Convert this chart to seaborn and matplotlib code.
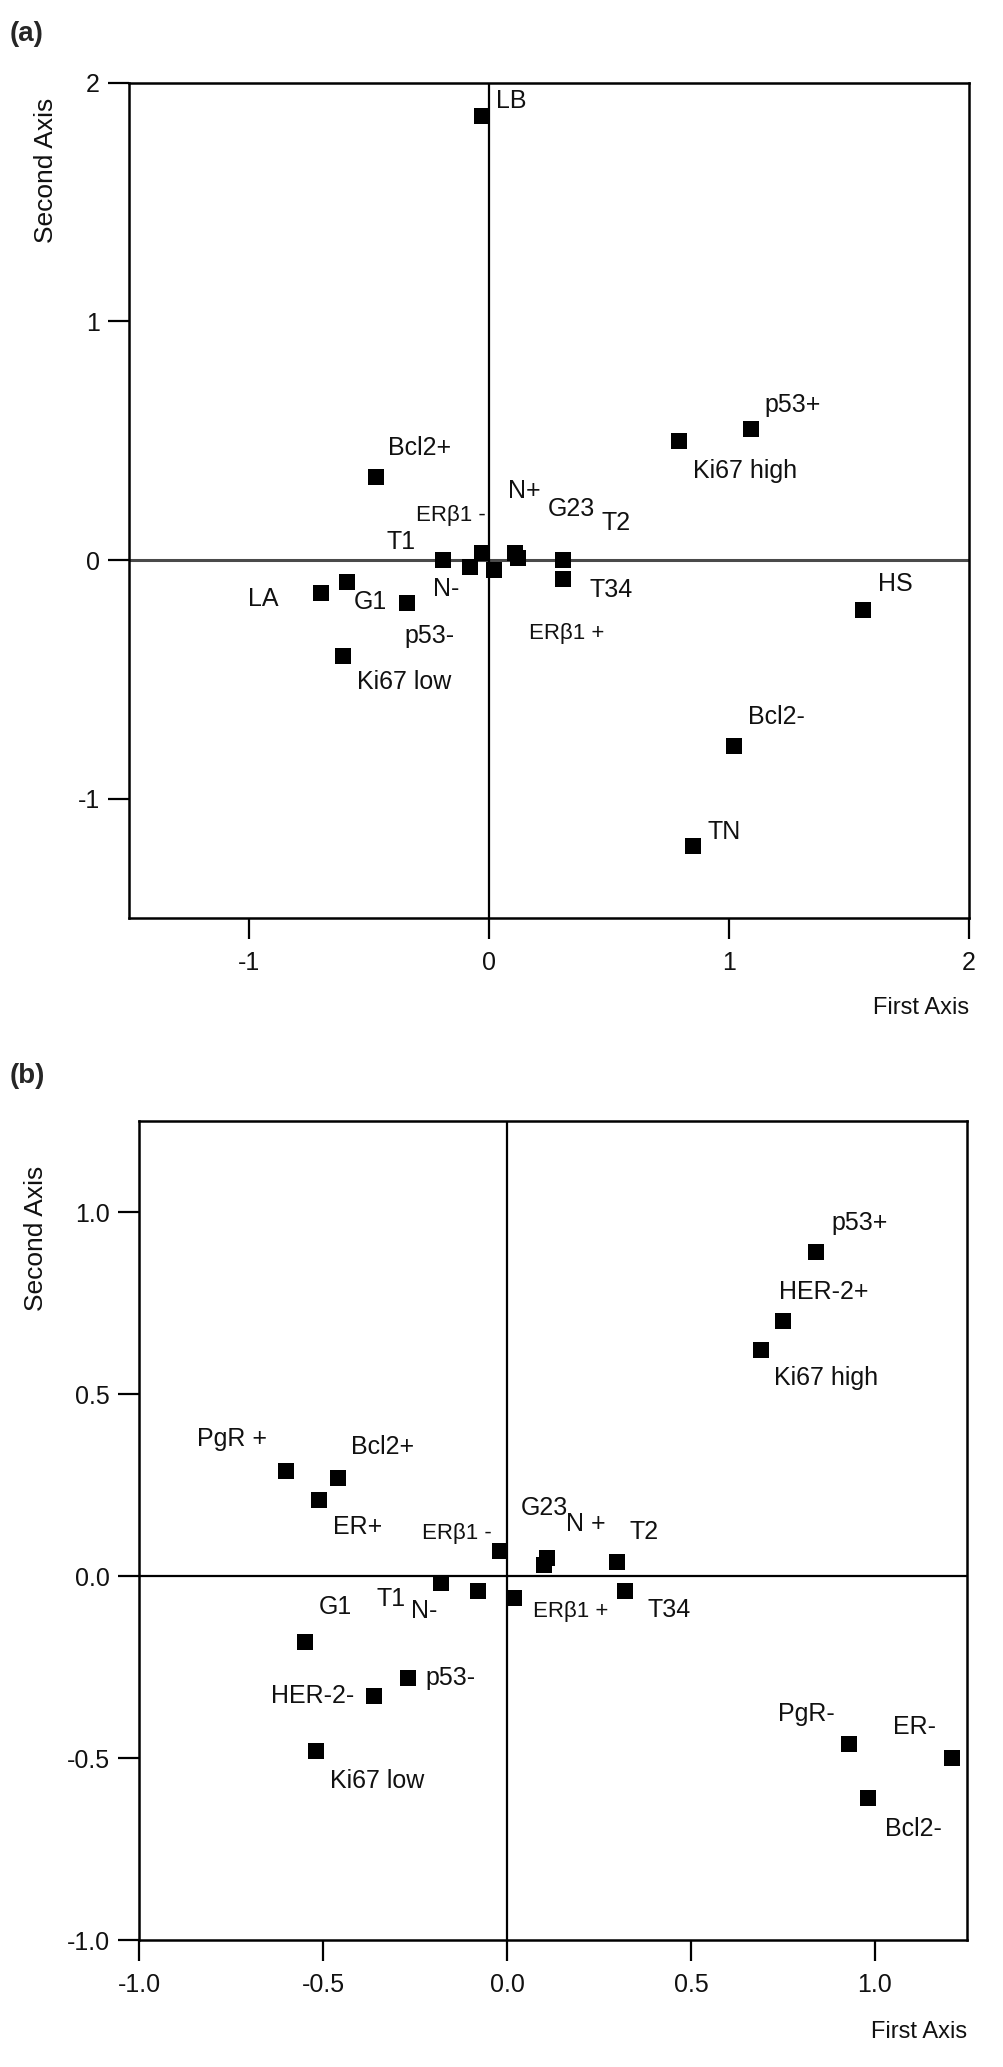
import matplotlib
matplotlib.use("Agg")
import matplotlib.pyplot as plt
import pandas as pd
import seaborn as sns

# ---- panel (a) ----
A_LABELS = ["LB", "p53+", "Ki67 high", "Bcl2+", "HS", "Bcl2-", "TN",
            "T1", "N-", "ERβ1 -", "ERβ1 +", "N+", "G23", "T2", "T34",
            "G1", "LA", "p53-", "Ki67 low"]
A_FIRST = [-0.03, 1.09, 0.79, -0.47, 1.56, 1.02, 0.85,
           -0.19, -0.08, -0.03, 0.02, 0.11, 0.12, 0.31, 0.31,
           -0.59, -0.70, -0.34, -0.61]
A_SECOND = [1.86, 0.55, 0.50, 0.35, -0.21, -0.78, -1.20,
            0.00, -0.03, 0.03, -0.04, 0.03, 0.01, 0.00, -0.08,
            -0.09, -0.14, -0.18, -0.40]
A_TICKS = [-1, 0, 1, 2]

# ---- panel (b) ----
B_LABELS = ["p53+", "HER-2+", "Ki67 high", "PgR +", "Bcl2+", "ER+", "ERβ1 -",
            "G23", "N +", "T2", "T1", "N-", "ERβ1 +", "T34", "G1", "HER-2-",
            "p53-", "Ki67 low", "PgR-", "ER-", "Bcl2-"]
B_FIRST = [0.84, 0.75, 0.69, -0.60, -0.46, -0.51, -0.02,
           0.11, 0.10, 0.30, -0.18, -0.08, 0.02, 0.32, -0.55, -0.36,
           -0.27, -0.52, 0.93, 1.21, 0.98]
B_SECOND = [0.89, 0.70, 0.62, 0.29, 0.27, 0.21, 0.07,
            0.05, 0.03, 0.04, -0.02, -0.04, -0.06, -0.04, -0.18, -0.33,
            -0.28, -0.48, -0.46, -0.50, -0.61]
B_TICKS = [-1.0, -0.5, 0.0, 0.5, 1.0]

# label placement (pixels from marker)
A_OFFSETS = [(14, 15), (14, 24), (14, -30), (12, 29), (15, 26), (14, 29), (14, 14),
             (-57, 18), (-37, -22), (-66, 37), (35, -64), (-7, 62), (30, 49),
             (38, 37), (26, -11), (6, -20), (-73, -6), (-3, -33), (14, -26)]
B_OFFSETS = [(15, 29), (-4, 29), (13, -28), (-89, 32), (13, 31), (14, -27), (-78, 17),
             (-27, 50), (22, 41), (12, 30), (-64, -16), (-67, -20), (19, -14),
             (23, -19), (14, 35), (-103, 0), (18, 0), (14, -30), (-71, 30),
             (-59, 31), (17, -31)]

sns.set_style("white")
plt.rcParams["font.family"] = ["Liberation Sans", "DejaVu Sans"]
plt.rcParams["axes.unicode_minus"] = False
NARROW = ["Liberation Sans Narrow", "Liberation Sans", "DejaVu Sans"]


def draw_panel(ax, first, second, labels, offsets, ticks, fmt, hline_color):
    df = pd.DataFrame({"first": first, "second": second, "label": labels})
    ax.axhline(0, color=hline_color, lw=2.2 if hline_color != "black" else 1.6, zorder=1)
    ax.axvline(0, color="black", lw=1.6, zorder=1)
    sns.scatterplot(data=df, x="first", y="second", ax=ax, marker="s", s=125,
                    color="black", edgecolor="black", linewidth=0, zorder=3)
    for (_, row), (dx, dy) in zip(df.iterrows(), offsets):
        small = row["label"].startswith("ERβ")
        ax.annotate(row["label"], (row["first"], row["second"]), xytext=(dx, dy),
                    textcoords="offset pixels", ha="left", va="center",
                    fontsize=16 if small else 18, color="#111111")
    ax.set_xticks(ticks)
    ax.set_yticks(ticks)
    ax.set_xticklabels([fmt.format(t) for t in ticks])
    ax.set_yticklabels([fmt.format(t) for t in ticks])
    ax.tick_params(direction="out", length=15, width=1.6, labelsize=18,
                   color="black", labelcolor="#111111", pad=6,
                   bottom=True, left=True)
    ax.tick_params(axis="x", pad=9)
    for sp in ax.spines.values():
        sp.set_color("black")
        sp.set_linewidth(1.8)
    ax.set_xlabel("")
    ax.set_ylabel("")


fig = plt.figure(figsize=(10.04, 20.67), dpi=100)

ax_a = fig.add_axes([0.1285, 0.5559, 0.8367, 0.4040])
draw_panel(ax_a, A_FIRST, A_SECOND, A_LABELS, A_OFFSETS, A_TICKS, "{:g}", "#4a4a4a")
ax_a.set_xlim(-1.5, 2)
ax_a.set_ylim(-1.5, 2)
ax_a.text(1.0, -0.108, "First Axis", transform=ax_a.transAxes, ha="right",
          va="center", fontsize=17, family=NARROW, color="#111111")
ax_a.text(-0.099, 0.895, "Second Axis", transform=ax_a.transAxes, ha="center",
          va="center", rotation=90, fontsize=19, color="#111111")

ax_b = fig.add_axes([0.1384, 0.0614, 0.8247, 0.3962])
draw_panel(ax_b, B_FIRST, B_SECOND, B_LABELS, B_OFFSETS, B_TICKS, "{:.1f}", "black")
ax_b.set_xlim(-1.0, 1.25)
ax_b.set_ylim(-1.0, 1.25)
ax_b.text(1.0, -0.112, "First Axis", transform=ax_b.transAxes, ha="right",
          va="center", fontsize=17, family=NARROW, color="#111111")
ax_b.text(-0.124, 0.857, "Second Axis", transform=ax_b.transAxes, ha="center",
          va="center", rotation=90, fontsize=19, color="#111111")

fig.text(0.01, 0.990, "(a)", ha="left", va="top", fontsize=20, fontweight="bold",
         family=NARROW)
fig.text(0.01, 0.4857, "(b)", ha="left", va="top", fontsize=20, fontweight="bold",
         family=NARROW)

fig.savefig("out.png", dpi=100, facecolor="white")
